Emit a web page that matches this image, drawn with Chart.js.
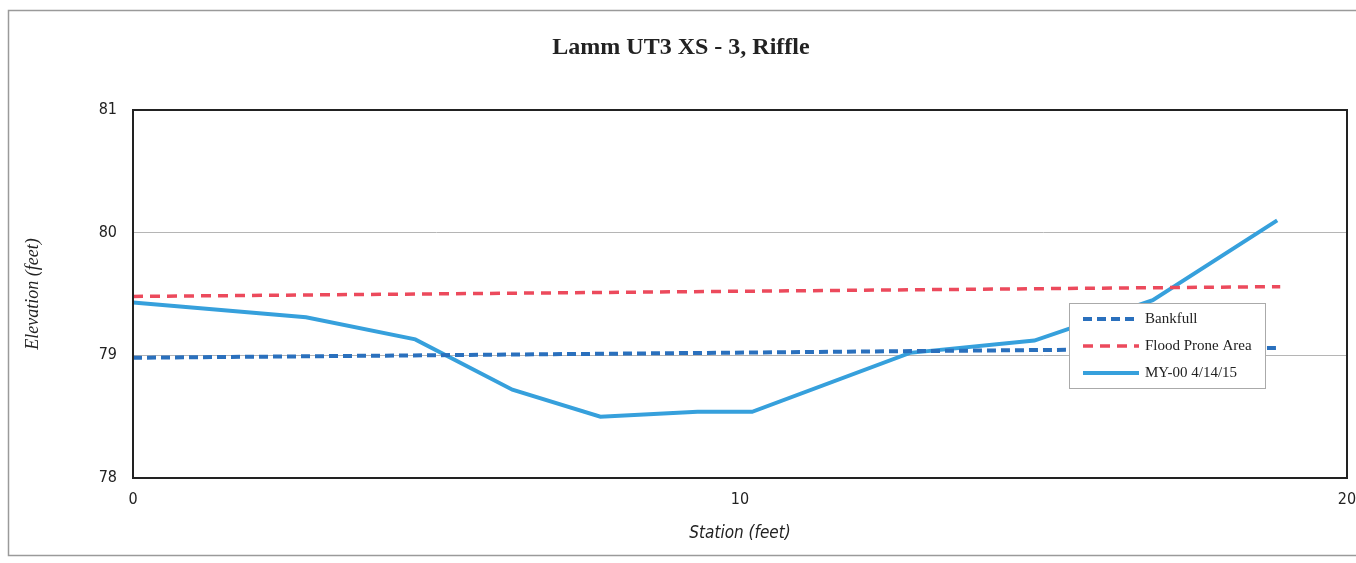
<!DOCTYPE html>
<html>
<head>
<meta charset="utf-8">
<script src="https://cdn.jsdelivr.net/npm/chart.js@4/dist/chart.umd.min.js"></script>
<style>
  html, body { margin: 0; padding: 0; background: #fff; }
  #wrap { width: 1356px; height: 563px; position: relative; }
</style>
</head>
<body>
<div id="wrap"><canvas id="grafico" width="1356" height="563"></canvas></div>
<script>
// dados
const titulo = "Lamm UT3 XS - 3, Riffle";
const estacaoMY00 = [0, 2.85, 4.65, 6.25, 7.7, 9.3, 10.2, 12.8, 14.85, 16.8, 18.85];
const elevacaoMY00 = [79.43, 79.31, 79.13, 78.72, 78.5, 78.54, 78.54, 79.02, 79.12, 79.45, 80.1];
const estacaoBankfull = [0, 18.9];
const elevacaoBankfull = [78.98, 79.06];
const estacaoFlood = [0, 18.9];
const elevacaoFlood = [79.48, 79.56];
const ticksX = [0, 10, 20];
const ticksY = [78, 79, 80, 81];

function pontos(xs, ys) {
    return xs.map(function (x, i) { return { x: x, y: ys[i] }; });
}

// moldura, titulo e legenda
const extras = {
    id: "extras",
    beforeDraw: function (chart) {
        const ctx = chart.ctx;
        ctx.save();
        ctx.strokeStyle = "#9a9a9a";
        ctx.lineWidth = 1.5;
        ctx.strokeRect(8.5, 10.5, 1360, 545);
        ctx.restore();
    },
    afterDraw: function (chart) {
        const ctx = chart.ctx;
        const a = chart.chartArea;
        ctx.save();
        // borda do grafico
        ctx.strokeStyle = "#222";
        ctx.lineWidth = 2;
        ctx.strokeRect(a.left, a.top, a.right - a.left, a.bottom - a.top);
        // titulo
        ctx.fillStyle = "#222";
        ctx.font = "bold 24px 'Liberation Serif', 'DejaVu Serif', serif";
        ctx.textAlign = "center";
        ctx.textBaseline = "middle";
        ctx.fillText(titulo, 681, 48);
        // legenda
        const lx = 1069, ly = 303, lw = 196, lh = 85;
        ctx.fillStyle = "#fff";
        ctx.fillRect(lx, ly, lw, lh);
        ctx.strokeStyle = "#aaa";
        ctx.lineWidth = 1;
        ctx.strokeRect(lx + 0.5, ly + 0.5, lw, lh);
        ctx.font = "15px 'Liberation Serif', 'DejaVu Serif', serif";
        ctx.textAlign = "left";
        chart.data.datasets.forEach(function (ds, i) {
            const y = ly + 16 + i * 27;
            ctx.strokeStyle = ds.borderColor;
            ctx.lineWidth = ds.borderWidth;
            ctx.setLineDash(ds.borderDash || []);
            ctx.beginPath();
            ctx.moveTo(lx + 14, y);
            ctx.lineTo(lx + 70, y);
            ctx.stroke();
            ctx.setLineDash([]);
            ctx.fillStyle = "#222";
            ctx.fillText(ds.label, lx + 76, y);
        });
        ctx.restore();
    }
};

const fonteTick = { family: "'Liberation Sans Narrow', 'DejaVu Sans Condensed', 'Liberation Sans', sans-serif", size: 16 };

new Chart(document.getElementById("grafico"), {
    type: "scatter",
    data: {
        datasets: [
            {
                label: "Bankfull",
                data: pontos(estacaoBankfull, elevacaoBankfull),
                showLine: true,
                borderColor: "#2a70bd",
                borderWidth: 4,
                borderDash: [9, 5],
                pointRadius: 0
            },
            {
                label: "Flood Prone Area",
                data: pontos(estacaoFlood, elevacaoFlood),
                showLine: true,
                borderColor: "#ec4a5c",
                borderWidth: 3.5,
                borderDash: [10, 7],
                pointRadius: 0
            },
            {
                label: "MY-00 4/14/15",
                data: pontos(estacaoMY00, elevacaoMY00),
                showLine: true,
                borderColor: "#36a0dc",
                borderWidth: 4,
                pointRadius: 0
            }
        ]
    },
    options: {
        responsive: false,
        animation: false,
        layout: { padding: { top: 110, right: 9, left: 0, bottom: 0 } },
        plugins: {
            legend: { display: false },
            title: { display: false },
            tooltip: { enabled: false }
        },
        scales: {
            x: {
                type: "linear",
                min: 0,
                max: 20,
                afterBuildTicks: function (s) { s.ticks = ticksX.map(function (v) { return { value: v }; }); },
                afterFit: function (s) { s.height = 85; s.paddingRight = 0; s.paddingLeft = 0; },
                grid: { display: false, drawTicks: false },
                border: { display: false },
                ticks: { color: "#222", font: fonteTick, padding: 12, maxRotation: 0 },
                title: {
                    display: true,
                    text: "Station (feet)",
                    color: "#222",
                    font: { family: "'Liberation Sans Narrow', 'DejaVu Sans Condensed', sans-serif", size: 17, style: "italic" },
                    padding: { top: 8, bottom: 19 }
                }
            },
            y: {
                min: 78,
                max: 81,
                afterBuildTicks: function (s) { s.ticks = ticksY.map(function (v) { return { value: v }; }); },
                afterFit: function (s) { s.width = 133; s.paddingTop = 0; s.paddingBottom = 0; },
                grid: {
                    color: function (c) { return (c.tick && (c.tick.value === 79 || c.tick.value === 80)) ? "#b5b5b5" : "rgba(0,0,0,0)"; },
                    drawTicks: false
                },
                border: { display: false },
                ticks: { color: "#222", font: fonteTick, padding: 16 },
                title: {
                    display: true,
                    text: "Elevation (feet)",
                    color: "#222",
                    font: { family: "'Liberation Serif', 'DejaVu Serif', serif", size: 18, style: "italic" },
                    padding: { top: 22, bottom: 20 }
                }
            }
        }
    },
    plugins: [extras]
});
</script>
</body>
</html>
